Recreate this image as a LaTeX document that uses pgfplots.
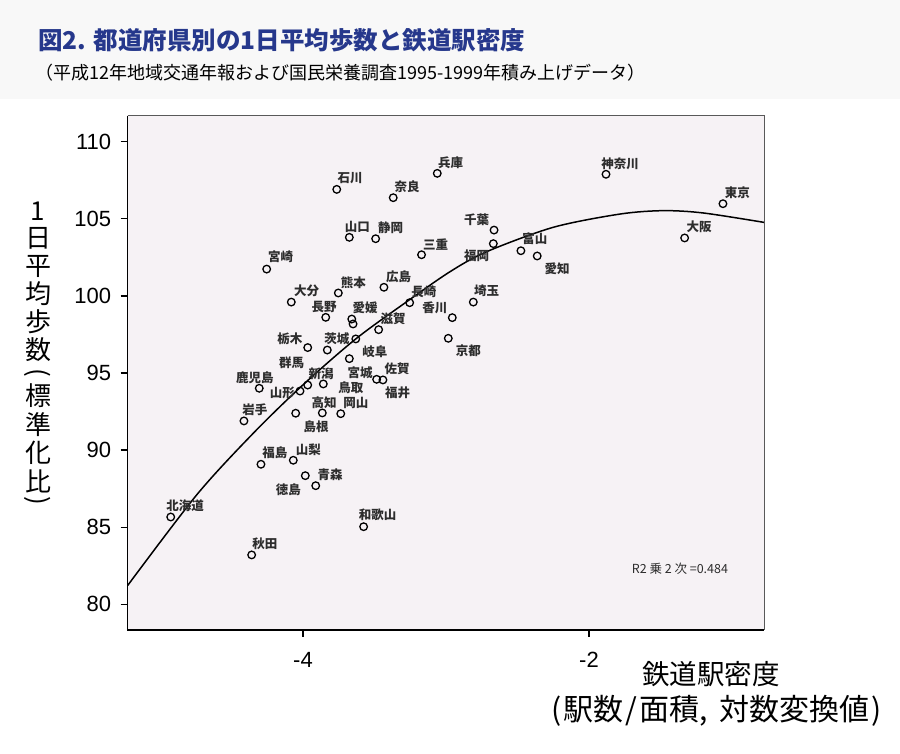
\documentclass[border=0pt]{standalone}
\usepackage{fontspec}
\setmainfont{Liberation Sans}
\newfontfamily\jp{Noto Sans CJK JP}
\usepackage{pgfplots}
\pgfplotsset{compat=1.18}

\definecolor{plotbg}{RGB}{246,242,245}
\definecolor{headbg}{RGB}{248,248,248}
\definecolor{titleblue}{RGB}{38,56,140}
\definecolor{lblgray}{RGB}{45,45,45}

\tikzset{plbl/.style={font=\jp\bfseries\fontsize{12.5}{12.5}\selectfont, text=lblgray, inner sep=0pt}}

% one pixel of the reference = 1pt
\begin{document}
\begin{tikzpicture}
\path[use as bounding box, fill=white] (0pt,0pt) rectangle (900pt,754pt);
\fill[headbg] (0pt,655pt) rectangle (900pt,754pt);

% titles
\node[anchor=west, text=titleblue, font=\jp\bfseries\fontsize{24.5}{24.5}\selectfont, inner sep=0pt]
  at (38pt,714pt) {図2. 都道府県別の1日平均歩数と鉄道駅密度};
\node[anchor=west, font=\jp\fontsize{18}{18}\selectfont, inner sep=0pt]
  at (35pt,681pt) {（平成12年地域交通年報および国民栄養調査1995-1999年積み上げデータ）};

% vertical y label, one character per line (brackets turned)
\foreach \c/\py/\r in {1/211/0, 日/238/0, 平/266/0, 均/294/0, 歩/322/0, 数/350/0, {(}/373/-90,
                    標/396/0, 準/425/0, 化/453/0, 比/481/0, {)}/501/-90}
  \node[font=\jp\fontsize{26}{26}\selectfont, inner sep=0pt, rotate=\r] at (38pt,{754pt-\py pt}) {\c};

% x label
\node[font=\jp\fontsize{27.5}{27.5}\selectfont, inner sep=0pt] at (711pt,80.3pt) {鉄道駅密度};
\node[font=\jp\fontsize{30}{30}\selectfont, inner sep=0pt] at (716.7pt,43.3pt)
  {(\hspace{2pt}駅数\hspace{2pt}/\hspace{2pt}面積,\hspace{12pt}対数変換値\hspace{2pt})};

\begin{axis}[
    at={(127.7pt,124pt)}, anchor=south west,
    scale only axis,
    width=636.3pt, height=514.3pt,
    xmin=-5.226, xmax=-0.776,
    ymin=78.33, ymax=111.69,
    clip=false,
    axis line style={draw=none},
    axis background/.style={fill=plotbg},
    tick align=outside,
    xtick pos=bottom, ytick pos=left,
    major tick length=7pt,
    tick style={black, line width=1.2pt},
    xtick={-4,-2}, xticklabels={-4,-2},
    ytick={80,85,90,95,100,105,110},
    /pgf/number format/assume math mode=true,
    ticklabel style={font=\fontsize{22}{22}\selectfont},
    yticklabel style={xshift=-6pt},
    xticklabel style={yshift=-12pt},
]

% frame: grey top/right, black left/bottom
\draw[gray!70!black, line width=1pt] (rel axis cs:0,1) -- (rel axis cs:1,1) -- (rel axis cs:1,0);
\draw[black, line width=1.5pt] (rel axis cs:0,1) -- (rel axis cs:0,0) -- (rel axis cs:1,0);

% quadratic fit line
\addplot[black, line width=1.5pt, smooth] coordinates {
  (-5.226,81.22) (-4.743,87.10) (-4.348,91.09) (-3.998,94.25) (-3.631,97.21)
  (-3.275,99.62) (-2.972,101.57) (-2.715,102.87) (-2.25,104.45) (-1.783,105.31)
  (-1.48,105.53) (-1.201,105.38) (-0.776,104.77)
};

% prefectures
\addplot[only marks, mark=o, mark size=3.8pt, mark options={black, line width=1.3pt}] coordinates {
  (-3.764,106.91) (-3.369,106.37) (-3.061,107.95) (-3.676,103.80) (-3.492,103.71)
  (-3.171,102.67) (-4.254,101.74) (-3.753,100.19) (-3.434,100.56) (-4.082,99.60)
  (-3.254,99.56) (-3.841,98.61) (-3.659,98.50) (-3.650,98.18) (-3.471,97.81)
  (-2.956,98.59) (-2.984,97.25) (-3.967,96.65) (-3.830,96.49) (-3.631,97.21)
  (-3.676,95.93) (-3.485,94.59) (-3.441,94.55) (-3.967,94.22) (-3.858,94.29)
  (-4.306,94.01) (-4.021,93.83) (-4.413,91.89) (-4.051,92.39) (-3.865,92.41)
  (-3.736,92.36) (-4.294,89.08) (-4.068,89.34) (-3.984,88.34) (-3.911,87.69)
  (-4.925,85.66) (-3.576,85.03) (-4.359,83.20) (-1.881,107.89) (-1.063,105.98)
  (-2.664,104.27) (-2.669,103.39) (-2.476,102.93) (-2.362,102.59) (-1.331,103.76)
  (-2.809,99.60)
};

% point labels
\foreach \n/\lx/\ly in {
  石川/-3.671/107.63, 奈良/-3.271/107.08, 兵庫/-2.967/108.66, 山口/-3.620/104.49,
  静岡/-3.387/104.45, 三重/-3.073/103.35, 宮崎/-4.156/102.54, 熊本/-3.648/100.88,
  広島/-3.331/101.25, 大分/-3.974/100.34, 長崎/-3.154/100.27, 長野/-3.853/99.30,
  愛媛/-3.566/99.23, 滋賀/-3.369/98.50, 香川/-3.077/99.20, 京都/-2.844/96.45,
  栃木/-4.091/97.25, 茨城/-3.764/97.25, 岐阜/-3.497/96.38, 群馬/-4.079/95.69,
  新潟/-3.874/94.98, 宮城/-3.601/95.05, 佐賀/-3.341/95.26, 鳥取/-3.666/94.07,
  福井/-3.338/93.72, 鹿児島/-4.336/94.70, 山形/-4.145/93.72, 岩手/-4.336/92.60,
  高知/-3.853/93.07, 岡山/-3.631/93.07, 島根/-3.909/91.52, 福島/-4.196/89.83,
  山梨/-3.963/90.05, 青森/-3.811/88.39, 徳島/-4.103/87.46, 北海道/-4.825/86.37,
  和歌山/-3.478/85.79, 秋田/-4.266/83.91, 神奈川/-1.783/108.60, 東京/-0.963/106.72,
  千葉/-2.785/104.97, 福岡/-2.785/102.59, 富山/-2.378/103.69, 愛知/-2.222/101.74,
  大阪/-1.229/104.47, 埼玉/-2.715/100.32}
{
  \edef\temp{\noexpand\node[plbl] at (axis cs:\lx,\ly) {\n};}
  \temp
}

\node[font=\jp\fontsize{12.5}{12.5}\selectfont, text=lblgray, inner sep=0pt]
  at (axis cs:-1.364,82.27) {R2 乗 2 次 =0.484};

\end{axis}
\end{tikzpicture}
\end{document}
